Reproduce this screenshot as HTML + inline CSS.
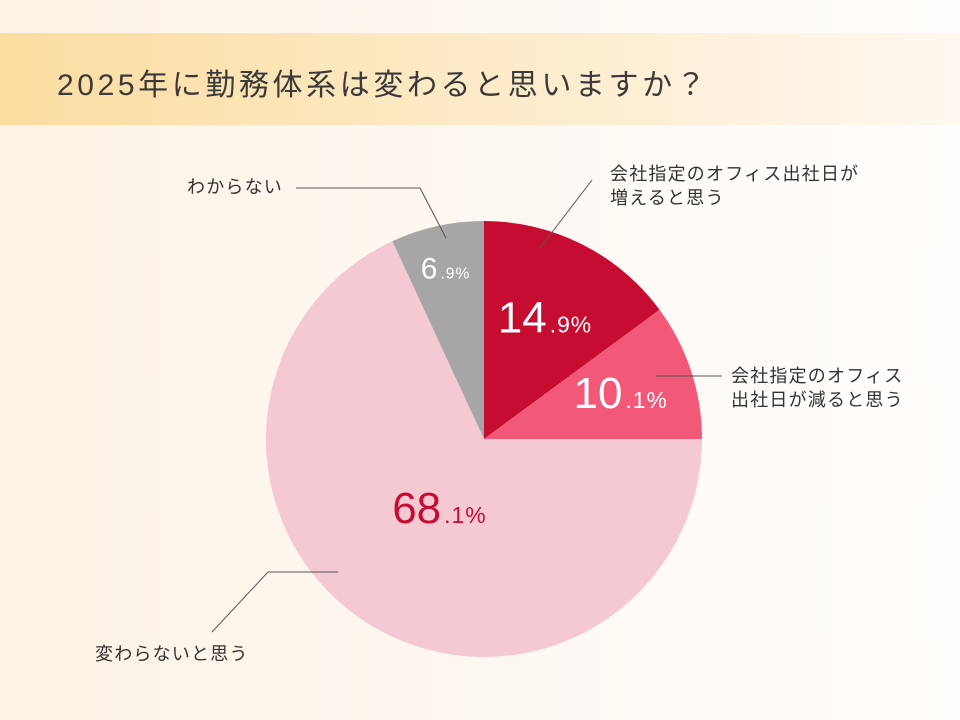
<!DOCTYPE html>
<html><head><meta charset="utf-8"><style>
body{margin:0;width:960px;height:720px;overflow:hidden;font-family:"Liberation Sans","Noto Sans CJK JP",sans-serif;background:linear-gradient(90deg,#fdf3e4 0%,#fef8f2 50%,#fffdfb 100%);position:relative}
.band{position:absolute;left:0;top:33px;width:960px;height:92px;background:linear-gradient(90deg,#fbdca0 0%,#fde9c4 45%,#fef8f0 100%)}
.title{position:absolute;left:57px;top:60px;font-size:30px;letter-spacing:3.6px;color:#3a3a3a;white-space:nowrap}
.lbl{position:absolute;font-size:18px;letter-spacing:1.2px;color:#333;line-height:24px;white-space:nowrap}
</style></head><body>
<div class="band"></div>
<div class="title">2025年に勤務体系は変わると思いますか？</div>
<svg id="chart" width="960" height="720" style="position:absolute;left:0;top:0"></svg>
<div class="lbl" style="left:610px;top:162px">会社指定のオフィス出社日が<br>増えると思う</div>
<div class="lbl" style="left:731px;top:364px">会社指定のオフィス<br>出社日が減ると思う</div>
<div class="lbl" style="left:187px;top:175px">わからない</div>
<div class="lbl" style="left:95px;top:642px">変わらないと思う</div>
<script>
const categories=["増える","減る","変わらない","わからない"];
const values=[14.9,10.1,68.1,6.9];
const colors=["#c60c30","#f25877","#f5c9d4","#a8a5a6"];
const textColors=["#fff","#fff","#c60c30","#fff"];
const cx=484,cy=439,r=218;
const labelR=[0.62,0.66,0.38,0.82];
const NS="http://www.w3.org/2000/svg";
const svg=document.getElementById('chart');
const total=values.reduce((a,b)=>a+b,0);
function pt(a,rr){return [cx+rr*Math.sin(a),cy-rr*Math.cos(a)];}
let a0=0;
values.forEach((v,i)=>{
  const a1=a0+v/total*2*Math.PI;
  const p0=pt(a0,r),p1=pt(a1,r);
  const path=document.createElementNS(NS,'path');
  path.setAttribute('d',`M${cx},${cy}L${p0[0]},${p0[1]}A${r},${r} 0 ${a1-a0>Math.PI?1:0} 1 ${p1[0]},${p1[1]}Z`);
  path.setAttribute('fill',colors[i]);
  
  
  svg.appendChild(path);
  const m=(a0+a1)/2;const lp=pt(m,r*labelR[i]);
  const s=v.toFixed(1).split('.');
  const t=document.createElementNS(NS,'text');
  t.setAttribute('x',lp[0]);t.setAttribute('y',lp[1]+14);
  t.setAttribute('text-anchor','middle');t.setAttribute('fill',textColors[i]);
  t.setAttribute('font-family','Liberation Sans, sans-serif');
  
  
  const big=i===3?30:44;
  t.innerHTML=`<tspan font-size="${big}">${s[0]}</tspan><tspan dx="3" font-size="${big*0.52}" letter-spacing="1">.${s[1]}%</tspan>`;
  svg.appendChild(t);
  a0=a1;
});
const lines=[[540,248,592,180],[656,376,722,376],[446,238,420,188,296,188],[338,572,268,572,212,632]];
lines.forEach((l,i)=>{
  const pl=document.createElementNS(NS,'polyline');
  let pts=[];for(let k=0;k<l.length;k+=2)pts.push(l[k]+','+l[k+1]);
  pl.setAttribute('points',pts.join(' '));
  pl.setAttribute('fill','none');pl.setAttribute('stroke','#555');pl.setAttribute('stroke-width','1');
  
  
  svg.appendChild(pl);
});
</script>
</body></html>
